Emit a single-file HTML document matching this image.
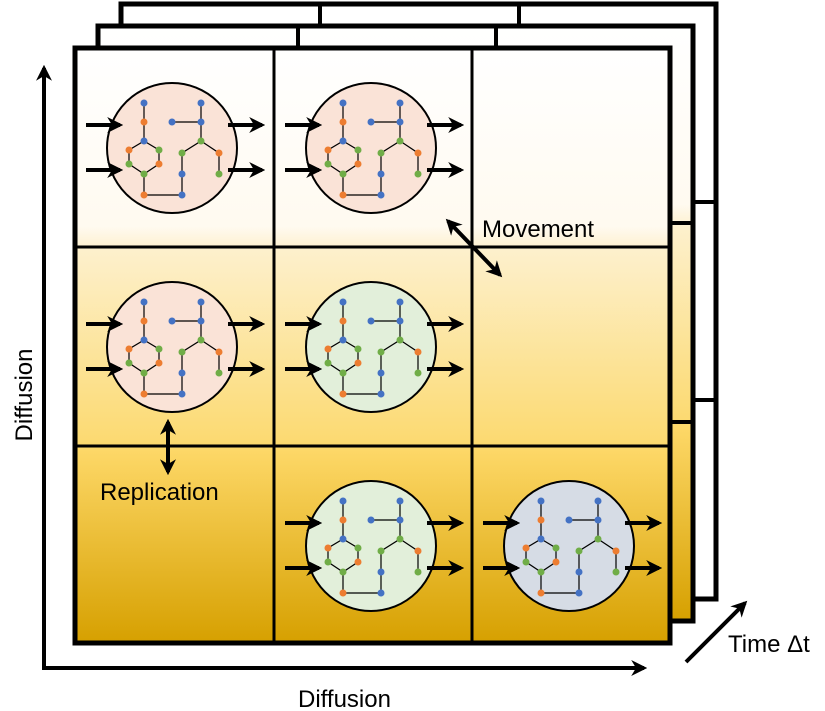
<!DOCTYPE html>
<html><head><meta charset="utf-8"><style>
html,body{margin:0;padding:0;background:#fff}
svg{display:block}
text{font-family:"Liberation Sans",sans-serif;fill:#000}
</style></head><body>
<svg width="825" height="711" viewBox="0 0 825 711" xmlns="http://www.w3.org/2000/svg">
<defs>
<linearGradient id="g" x1="0" y1="0" x2="0" y2="1">
<stop offset="0" stop-color="#ffffff"/>
<stop offset="0.3" stop-color="#fffaf0"/>
<stop offset="0.34" stop-color="#fdf0cc"/>
<stop offset="0.66" stop-color="#fcda72"/>
<stop offset="0.68" stop-color="#fdd766"/>
<stop offset="1" stop-color="#d6a000"/>
</linearGradient>
<marker id="ah" viewBox="0 0 10 10" refX="8" refY="5" markerWidth="4" markerHeight="4" orient="auto-start-reverse">
<path d="M0,0 L10,5 L0,10 L3,5 z" fill="#000"/>
</marker>
<g id="net">
<g stroke="#000" stroke-width="1.2" fill="none">
<path d="M-28,-45 V-7 L-43,2 V16 L-28,26 L-13,16 V2 L-28,-7 M-28,26 V47 L10,47 V5 L29,-7 V-45 M29,-26 H0 M29,-7 L47,5 V26"/>
</g>
<g stroke="#000" stroke-width="4" fill="none" marker-end="url(#ah)">
<line x1="-86" y1="-23" x2="-52" y2="-23"/><line x1="-86" y1="22" x2="-52" y2="22"/>
<line x1="56" y1="-23" x2="90" y2="-23"/><line x1="56" y1="22" x2="90" y2="22"/>
</g>
<g>
<circle cx="-28" cy="-45" r="3.5" fill="#4472c4"/>
<circle cx="-28" cy="-26" r="3.5" fill="#ed7d31"/>
<circle cx="-28" cy="-7" r="3.5" fill="#4472c4"/>
<circle cx="-43" cy="2" r="3.5" fill="#ed7d31"/>
<circle cx="-13" cy="2" r="3.5" fill="#70ad47"/>
<circle cx="-43" cy="16" r="3.5" fill="#70ad47"/>
<circle cx="-13" cy="16" r="3.5" fill="#ed7d31"/>
<circle cx="-28" cy="26" r="3.5" fill="#70ad47"/>
<circle cx="-28" cy="47" r="3.5" fill="#ed7d31"/>
<circle cx="10" cy="47" r="3.5" fill="#4472c4"/>
<circle cx="10" cy="26" r="3.5" fill="#4472c4"/>
<circle cx="10" cy="5" r="3.5" fill="#70ad47"/>
<circle cx="29" cy="-7" r="3.5" fill="#70ad47"/>
<circle cx="29" cy="-26" r="3.5" fill="#4472c4"/>
<circle cx="0" cy="-26" r="3.5" fill="#4472c4"/>
<circle cx="29" cy="-45" r="3.5" fill="#4472c4"/>
<circle cx="47" cy="5" r="3.5" fill="#ed7d31"/>
<circle cx="47" cy="26" r="3.5" fill="#70ad47"/>
</g>
</g>
</defs>
<!-- back frame 2 -->
<rect x="121" y="4" width="595" height="595" fill="#fff" stroke="#000" stroke-width="5"/>
<path d="M320,4 V26 M519,4 V26 M693,202 H716 M693,400 H716" stroke="#000" stroke-width="4"/>
<!-- back frame 1 -->
<rect x="98" y="26" width="595" height="595" fill="url(#g)" stroke="#000" stroke-width="5"/>
<path d="M298,26 V48 M496,26 V48 M670,223 H693 M670,422 H693" stroke="#000" stroke-width="4"/>
<!-- front -->
<rect x="75" y="48" width="595" height="595" fill="url(#g)" stroke="#000" stroke-width="5"/>
<path d="M274,48 V643 M472,48 V643 M75,247 H670 M75,446 H670" stroke="#000" stroke-width="3"/>
<!-- circles -->
<circle cx="172" cy="148" r="65" fill="#fae3d7" stroke="#000" stroke-width="2"/>
<use href="#net" x="172" y="148"/>
<circle cx="371" cy="148" r="65" fill="#fae3d7" stroke="#000" stroke-width="2"/>
<use href="#net" x="371" y="148"/>
<circle cx="172" cy="347" r="65" fill="#fae3d7" stroke="#000" stroke-width="2"/>
<use href="#net" x="172" y="347"/>
<circle cx="371" cy="347" r="65" fill="#e2efda" stroke="#000" stroke-width="2"/>
<use href="#net" x="371" y="347"/>
<circle cx="371" cy="546" r="65" fill="#e2efda" stroke="#000" stroke-width="2"/>
<use href="#net" x="371" y="546"/>
<circle cx="569" cy="546" r="65" fill="#d6dce5" stroke="#000" stroke-width="2"/>
<use href="#net" x="569" y="546"/>
<!-- arrows -->
<g stroke="#000" stroke-width="4" fill="none">
<line x1="44" y1="670" x2="44" y2="68" marker-end="url(#ah)"/>
<line x1="42" y1="668" x2="644" y2="668" marker-end="url(#ah)"/>
<line x1="448" y1="221" x2="500" y2="275" marker-end="url(#ah)" marker-start="url(#ah)"/>
<line x1="168" y1="422" x2="168" y2="472" marker-end="url(#ah)" marker-start="url(#ah)"/>
<line x1="686" y1="662" x2="745" y2="603" marker-end="url(#ah)"/>
</g>
<text x="482" y="237" font-size="24">Movement</text>
<text x="100" y="500" font-size="24">Replication</text>
<text x="298" y="707" font-size="24">Diffusion</text>
<text transform="translate(32,395) rotate(-90)" text-anchor="middle" font-size="24">Diffusion</text>
<text x="728" y="652" font-size="24">Time Δt</text>
</svg>
</body></html>
